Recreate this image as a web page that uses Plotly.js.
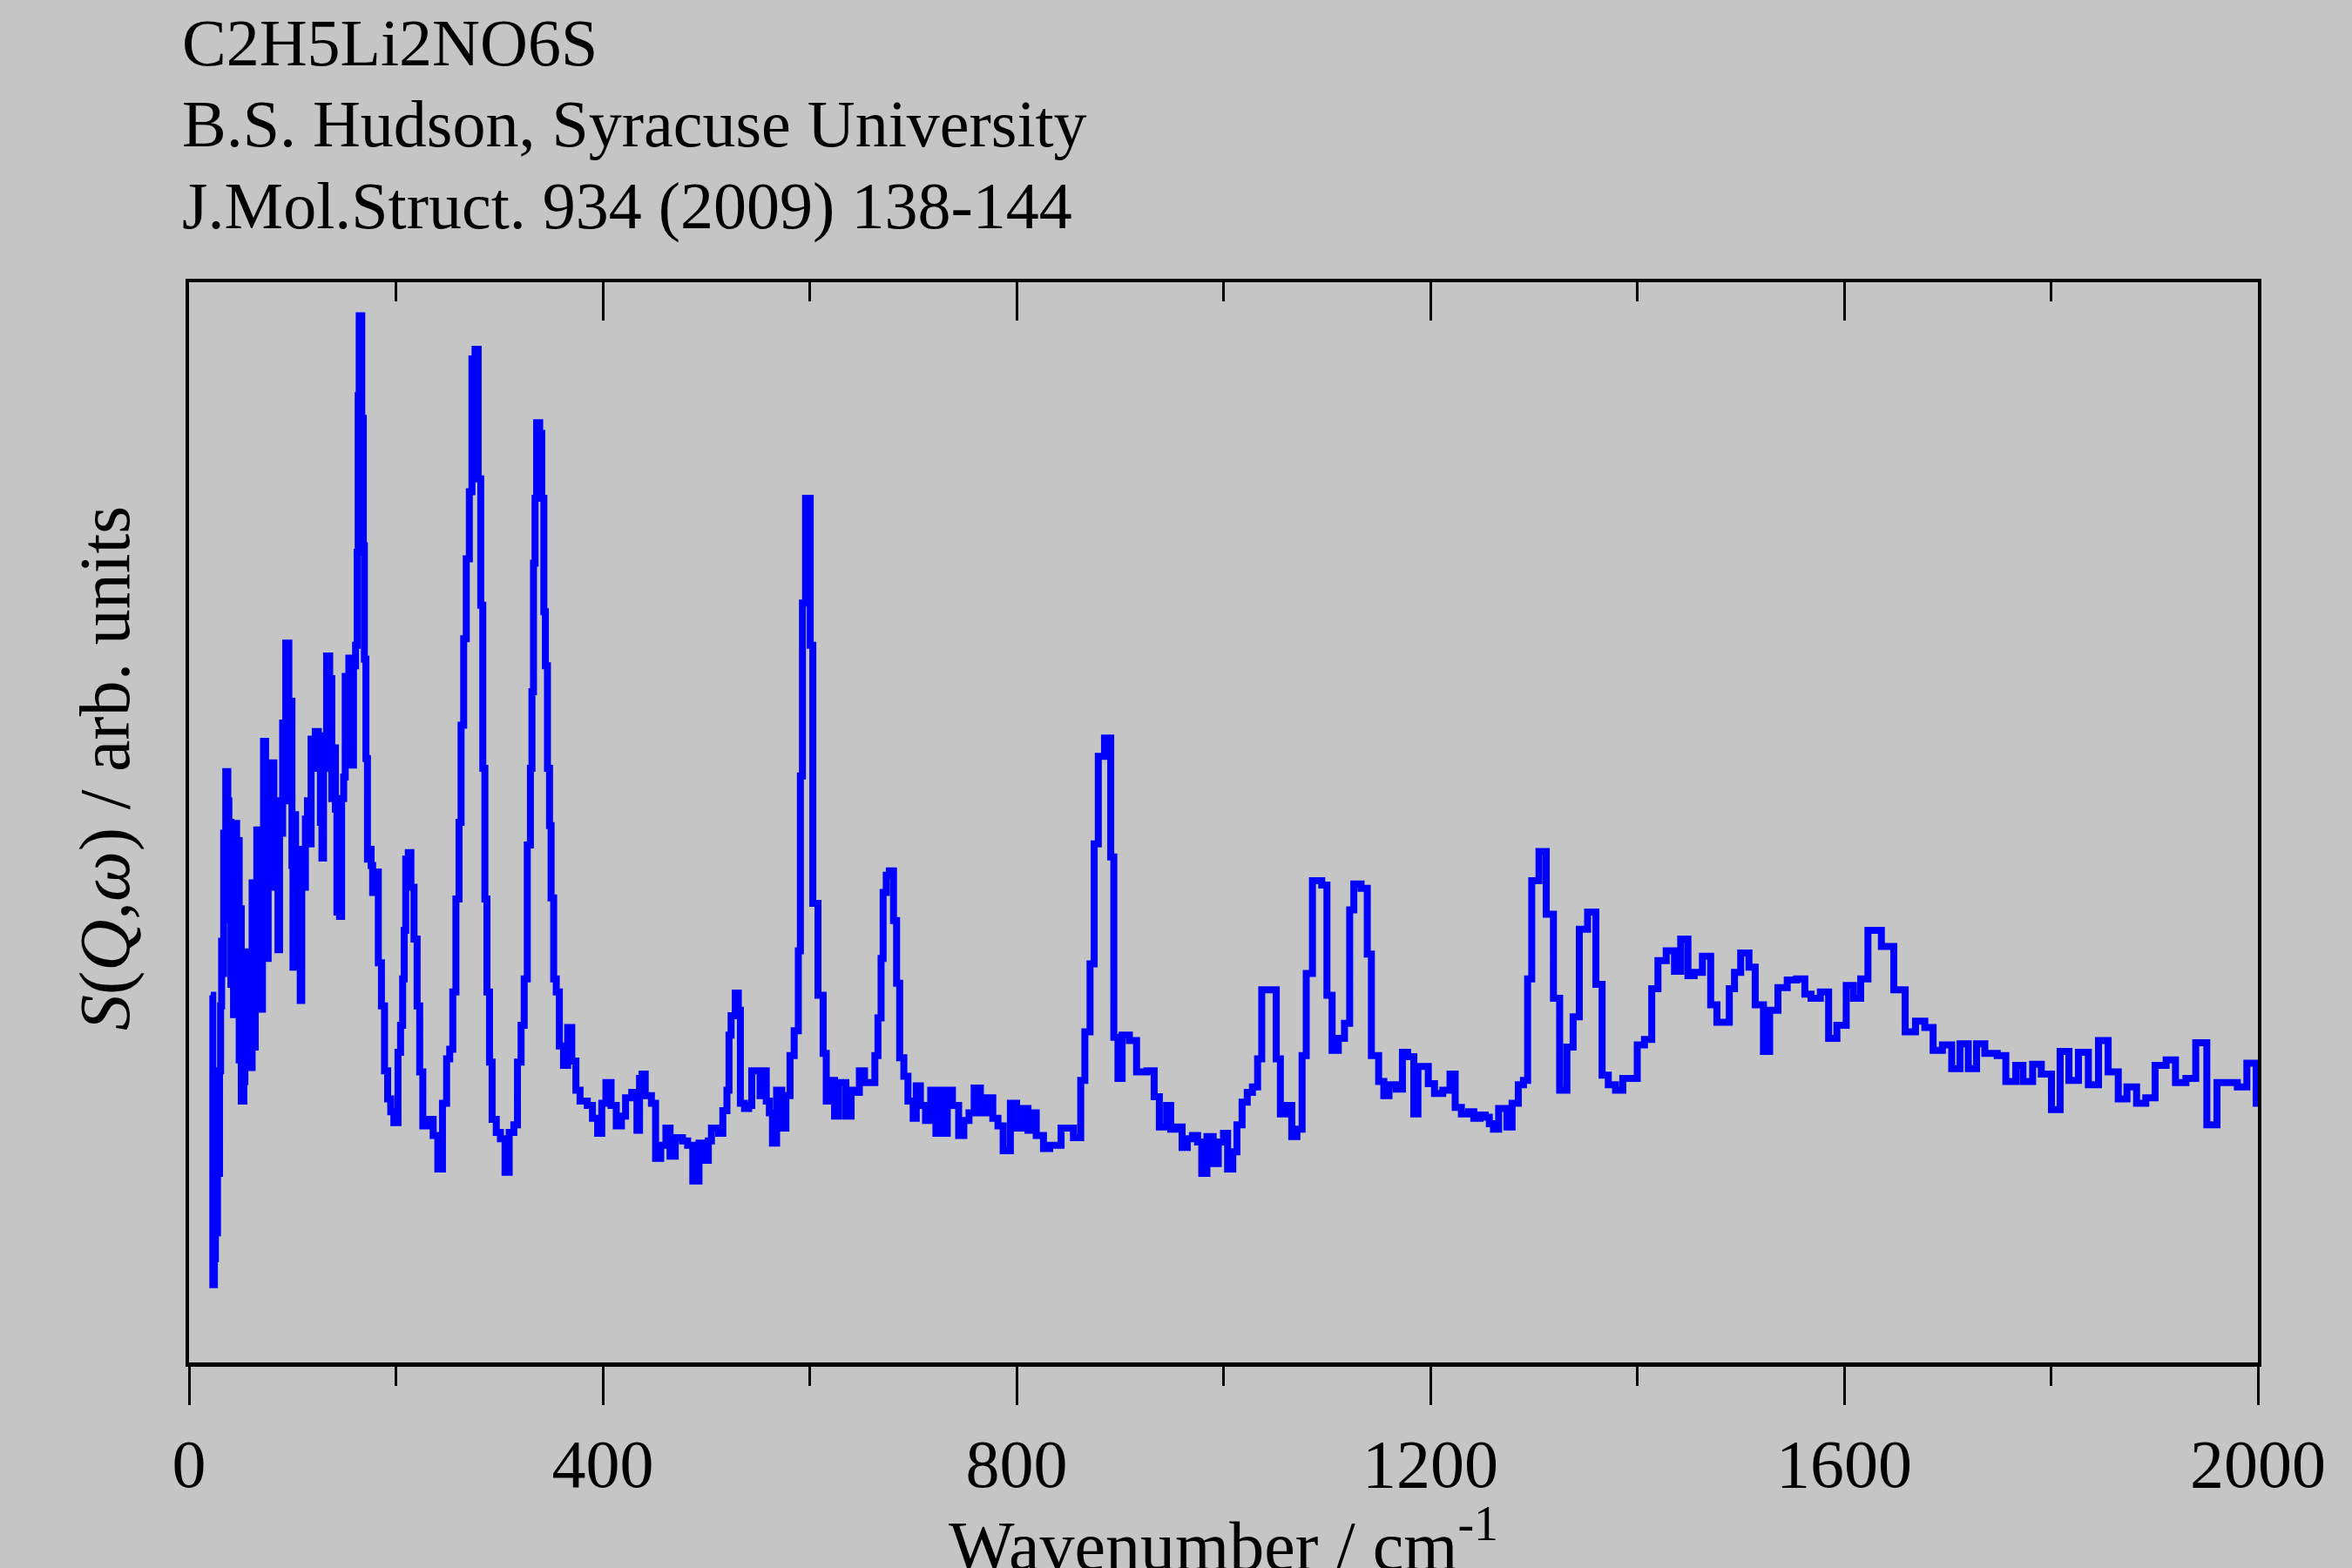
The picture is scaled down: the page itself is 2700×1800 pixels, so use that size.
<!DOCTYPE html>
<html>
<head>
<meta charset="utf-8">
<script src="https://cdn.plot.ly/plotly-3.0.1.min.js"></script>
<style>html,body{margin:0;padding:0;background:#c5c5c5;}</style>
</head>
<body>
<div id="chart" style="width:2700px;height:1800px;"></div>
<script>
// Wavenumber (cm-1, start of each step) and intensity (arb. units, 0-100 of plot height)
const wavenumber = [
21,23,24.5,25.5,26.5,27.5,28.5,29.5,30.5,31.5,32.5,33.5,34.5,35.5,37.5,38.5,39.5,40.5,41.5,43,
44.5,46,47,48.5,49.5,50.5,53,54,55,56,57,58.5,59.5,61,62.5,64,65.5,67,68.5,69.5,
71,72,74,75,76.5,78,79.5,80.5,82,83.5,85,86,87.5,89,90.5,92,93.5,96.5,98,99.5,
100.5,101.5,103,104.5,106,107.5,109,111,112.5,114.5,116.5,118,120,122,125,127,128.5,130,131.5,133,
136,138,139.5,141.5,143,145.5,147.5,149.5,151,153,154.5,157,159,161,162.5,163.5,164.5,167,168.5,169.5,
171,172.5,174,176,177.5,180,183,186,189,192,195,198,202,204.5,206.5,208,209.5,212,214.5,217.5,
220.5,223,226,231,236,240.5,245,249,252,255,258,261,263,265.5,268,271,273.5,276.5,279.5,282,
284,286,288,290.5,293,297,301,305.5,309.5,314,317.5,321,324,327,330,331.5,333,334.5,336,339,
341,343,344.5,346.5,348.5,350,352.5,355,358,362,366,370,374,378,385,390,395,399,403,408,
413,418,422,428,433,435.5,438,441,447,451,456,461,465,470,477,482,487,493,498,502,
505,512,516,520,522,524,528,531,533,537,541,544,548,552,555,558,561,564,568,573,
577,581,585,589,591,593,596,600.5,603,608,613,616,620,624,628,635,640,645,648,653,
659,663,666,669,671,674,677,681,684,687,691,695,700,703,707,712,717,722,725,730,
733,738,744,749,754,759,765,771,777,782,787,794,800,806,811,814,819,826,832,838,
843,850,855,862,866,871,875,879,885,891,894,898,902,909,916,926,933,938,945,949,
955,960,965,970,975,979,984,990,995,1000,1004,1009,1013,1018,1023,1028,1033,1037,1051,1055,
1061,1066,1071,1076,1080,1086,1095,1100,1105,1111,1117,1122,1126,1133,1139,1143,1150,1155,1160,1167,
1173,1178,1184,1188,1198,1204,1212,1219,1224,1230,1237,1242,1248,1253,1257,1261,1266,1274,1279,1285,
1290,1294,1298,1305,1312,1319,1325,1332,1338,1344,1352,1360,1366,1372,1379,1386,1400,1407,1414,1420,
1428,1436,1442,1449,1455,1463,1471,1477,1489,1494,1500,1508,1514,1522,1528,1536,1545,1554,1562,1568,
1577,1585,1593,1602,1609,1616,1623,1636,1648,1659,1669,1678,1686,1695,1704,1712,1720,1728,1736,1748,
1756.3,1765.9,1772.9,1782.2,1790.6,1800.4,1808.8,1817.3,1826.5,1836.1,1845.9,1855.2,1865,1873.4,1882.7,1891.6,1900.6,1911.3,1920.3,1930.4,
1939.9,1950.6,1960.4,1980.1,1989.3,1998.3,2000
];
const intensity = [
34.0,7.2,9.6,15.0,12.0,20.5,17.5,27.0,33.0,39.0,36.0,49.0,42.0,54.7,52.0,41.0,50.0,35.0,49.5,32.2,
49.9,40.0,48.3,28.0,42.0,24.2,26.0,34.0,38.0,30.5,37.8,30.5,27.3,44.4,29.2,40.0,49.3,42.0,38.0,32.7,
46.0,57.5,47.0,37.4,46.0,47.0,44.0,55.5,49.0,44.0,50.0,38.2,52.0,49.0,59.2,55.0,66.6,52.0,61.2,46.0,
36.6,50.7,44.0,42.0,46.0,33.5,47.5,44.0,50.3,52.0,48.0,57.7,55.0,58.4,56.0,50.0,46.7,55.0,58.0,65.4,
63.3,52.2,56.9,51.2,41.7,41.3,52.2,54.2,63.5,56.0,65.2,55.3,64.5,66.4,75.0,89.5,96.9,87.4,75.6,65.1,
55.9,46.6,47.5,46.0,43.5,45.4,37.0,33.0,27.0,24.4,23.2,22.2,28.7,31.2,35.5,40.0,46.6,47.2,44.0,39.2,
33.0,26.9,21.9,22.5,21.0,17.9,24.0,28.1,29.0,34.3,42.9,50.0,59.0,67.0,74.4,80.6,92.9,93.8,81.8,70.1,
55.0,42.9,34.3,27.8,22.5,21.3,20.7,17.6,21.3,22.0,27.8,31.2,35.5,47.9,55.0,62.1,74.0,80.0,87.0,86.0,
80.0,69.5,64.5,55.0,49.7,43.0,35.5,34.3,29.3,27.5,31.0,27.9,25.2,24.2,23.8,22.6,21.2,24.0,25.9,23.8,
21.9,22.8,24.5,25.0,21.5,26.3,26.7,24.7,24.0,18.9,20.1,21.7,19.1,20.8,20.5,20.1,16.8,20.3,18.7,20.5,
21.7,21.2,23.3,25.2,30.3,32.1,34.2,32.6,24.0,23.5,23.8,27.0,27.0,24.7,27.0,24.2,23.1,20.3,25.2,21.7,
24.7,28.4,30.7,38.1,54.3,70.3,80.0,66.4,42.5,34.0,28.6,24.2,26.1,22.8,25.9,22.8,25.2,25.0,27.0,25.9,
25.9,28.4,31.9,37.4,43.5,45.1,45.5,40.9,35.1,28.2,26.5,24.2,22.6,25.6,23.8,22.4,25.2,21.2,25.2,21.2,
25.2,23.8,21.0,22.4,23.1,25.4,23.1,24.5,22.6,21.9,19.6,24.0,21.7,23.5,21.5,23.1,21.0,19.8,20.1,20.1,
21.7,21.7,20.8,26.1,30.6,36.9,48.0,56.1,57.8,46.8,30.1,26.3,30.3,29.8,26.9,27.0,24.6,21.8,23.8,21.6,
21.8,19.9,20.7,21.0,20.4,17.5,20.9,18.4,20.4,21.2,17.9,19.5,22.0,24.1,25.0,25.5,28.1,34.5,28.1,23.0,
23.8,20.9,21.6,28.4,36.0,44.6,44.2,34.0,28.9,30.0,31.4,41.9,44.3,43.9,37.8,28.4,26.0,24.7,25.7,25.3,
28.7,28.3,23.0,27.4,25.8,24.9,25.2,26.7,23.6,23.0,23.2,22.6,22.9,22.7,22.1,21.6,23.5,21.8,24.0,25.7,
26.1,35.5,44.6,47.3,41.5,33.7,25.2,29.2,32.0,40.1,41.7,35.0,26.6,25.7,25.2,26.3,29.4,29.9,34.6,37.2,
38.1,36.2,39.2,35.8,36.1,37.6,33.1,31.5,34.6,36.1,37.9,36.6,33.1,28.8,32.6,34.7,35.4,35.5,34.1,33.7,
34.3,30.0,31.2,34.9,33.7,35.5,40.0,38.5,34.5,30.6,31.6,31.0,28.9,29.4,27.2,29.5,27.2,29.5,28.6,28.4,
26.0,27.5,26.0,27.6,26.7,23.4,28.8,26.1,28.7,25.7,29.8,26.9,24.4,25.5,24.0,24.5,27.5,28.0,25.9,26.3,
29.6,22.0,25.9,25.5,27.7,24.0,24.0
];
const xTickVals = [0, 400, 800, 1200, 1600, 2000];
const xTickText = ["0", "400", "800", "1200", "1600", "2000"];
const headerLines = ["C2H5Li2NO6S", "B.S. Hudson, Syracuse University", "J.Mol.Struct. 934 (2009) 138-144"];

const serif = "Liberation Serif, Times New Roman, serif";
const bg = "#c5c5c5";

const trace = {
  x: wavenumber,
  y: intensity,
  type: "scatter",
  mode: "lines",
  line: {color: "#0000ff", width: 8, shape: "hv"},
  hoverinfo: "skip",
  showlegend: false
};
// same data attached to the top axis (draws nothing) so the mirrored top frame with inward ticks is rendered
const topAxisCarrier = {
  x: wavenumber, y: intensity, xaxis: "x2", yaxis: "y",
  type: "scatter", mode: "none", hoverinfo: "skip", showlegend: false
};

const headerY = [1.2218, 1.1468, 1.0702];
const annotations = headerLines.map((t, i) => ({
  text: t, xref: "paper", yref: "paper", x: -0.0042, y: headerY[i],
  xanchor: "left", yanchor: "middle", showarrow: false,
  font: {family: serif, size: 76, color: "#000"}
}));
annotations.push({
  text: "<i>S</i>(<i>Q</i>,<i>ω</i>) / arb. units",
  xref: "paper", yref: "paper", x: -0.0408, y: 0.55, textangle: -90,
  xanchor: "center", yanchor: "middle", showarrow: false,
  font: {family: serif, size: 82, color: "#000"}
});
annotations.push({
  text: "Wavenumber / cm<sup>-1</sup>",
  xref: "paper", yref: "paper", x: 0.5, y: -0.165,
  xanchor: "center", yanchor: "middle", showarrow: false,
  font: {family: serif, size: 80, color: "#000"}
});

const layout = {
  width: 2700, height: 1800,
  paper_bgcolor: bg, plot_bgcolor: bg,
  margin: {l: 217, r: 108, t: 324, b: 236, pad: 0},
  showlegend: false,
  xaxis: {
    range: [0, 2000], showgrid: false, zeroline: false,
    showline: true, linecolor: "#000", linewidth: 5,
    ticks: "outside", ticklen: 44, tickwidth: 3, tickcolor: "#000",
    tickmode: "array", tickvals: xTickVals, ticktext: xTickText,
    minor: {dtick: 200, tick0: 0, ticks: "outside", ticklen: 22, tickwidth: 3, tickcolor: "#000", showgrid: false},
    ticklabelstandoff: 0,
    tickfont: {family: serif, size: 78, color: "#000"}
  },
  xaxis2: {
    range: [0, 2000], overlaying: "x", side: "top", anchor: "y",
    showgrid: false, zeroline: false,
    showline: true, linecolor: "#000", linewidth: 4,
    ticks: "inside", ticklen: 44, tickwidth: 3, tickcolor: "#000",
    tickmode: "array", tickvals: xTickVals, showticklabels: false,
    minor: {dtick: 200, tick0: 0, ticks: "inside", ticklen: 22, tickwidth: 3, tickcolor: "#000", showgrid: false}
  },
  yaxis: {
    range: [0, 100], showgrid: false, zeroline: false,
    showline: true, linecolor: "#000", linewidth: 4, mirror: true,
    ticks: "", showticklabels: false
  },
  annotations: annotations
};

Plotly.newPlot("chart", [trace, topAxisCarrier], layout, {staticPlot: true, displayModeBar: false});
</script>
</body>
</html>
